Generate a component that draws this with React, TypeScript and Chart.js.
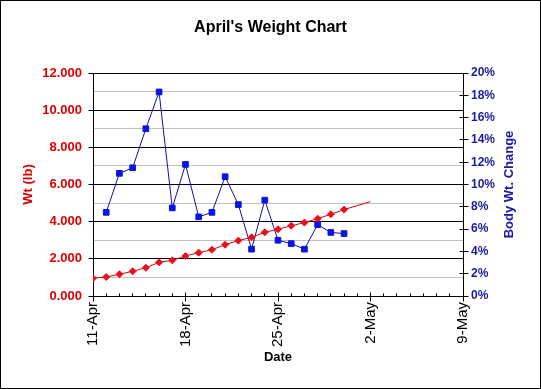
import React, { useEffect, useRef } from "react";
import { Chart, registerables } from "chart.js";

Chart.register(...registerables);

// Day offsets counted from 11-Apr
const dayOffsets = [0, 1, 2, 3, 4, 5, 6, 7, 8, 9, 10, 11, 12, 13, 14, 15, 16, 17, 18, 19];
const weights = [0.96, 1.02, 1.17, 1.33, 1.52, 1.81, 1.92, 2.15, 2.33, 2.49, 2.76, 2.98, 3.16, 3.43, 3.59, 3.78, 3.95, 4.16, 4.4, 4.65];
const bodyWtChange = [null, 7.5, 11.0, 11.5, 15.0, 18.3, 7.9, 11.8, 7.1, 7.5, 10.7, 8.2, 4.2, 8.6, 5.0, 4.7, 4.2, 6.4, 5.7, 5.6];
const trendDays = [19, 21];
const trendWeights = [4.65, 5.08];
const xTickLabels = ["11-Apr", "18-Apr", "25-Apr", "2-May", "9-May"];

const FONT = "'Liberation Sans', Arial, sans-serif";
const RED_TEXT = "#DD0000";
const BLUE_TEXT = "#1A1AA0";

function align(p: number) {
  return Math.round(p - 0.5) + 0.5;
}

const decorPlugin = {
  id: "decor",
  afterDraw(chart: any) {
    const { ctx, chartArea, scales } = chart;
    const x = scales.x;
    const yL = scales.yL;
    const yR = scales.yR;
    ctx.save();
    ctx.strokeStyle = "#000";
    ctx.lineWidth = 1;
    ctx.beginPath();
    const bottom = align(chartArea.bottom);
    for (let d = 0; d <= 28; d++) {
      const px = align(x.getPixelForValue(d));
      if (d % 7 === 0) {
        ctx.moveTo(px, bottom - 4);
        ctx.lineTo(px, bottom + 5);
      } else {
        ctx.moveTo(px, bottom - 3);
        ctx.lineTo(px, bottom);
      }
    }
    const left = align(chartArea.left);
    for (let v = 0; v <= 12; v += 2) {
      const py = align(yL.getPixelForValue(v));
      ctx.moveTo(left - 5, py);
      ctx.lineTo(left + 4, py);
    }
    const right = align(chartArea.right);
    for (let v = 0; v <= 20; v += 2) {
      const py = align(yR.getPixelForValue(v));
      ctx.moveTo(right - 4, py);
      ctx.lineTo(right + 5, py);
    }
    ctx.stroke();

    // right axis title (reads bottom to top)
    ctx.fillStyle = BLUE_TEXT;
    ctx.font = `bold 13px ${FONT}`;
    ctx.textAlign = "center";
    ctx.textBaseline = "middle";
    ctx.translate(509, (chartArea.top + chartArea.bottom) / 2);
    ctx.rotate(-Math.PI / 2);
    ctx.fillText("Body Wt. Change", 0, 0);
    ctx.restore();

    // outer frame
    ctx.save();
    ctx.strokeStyle = "#000";
    ctx.lineWidth = 1;
    ctx.strokeRect(0.5, 0.5, chart.width - 1, chart.height - 1);
    ctx.restore();
  },
};

export default function App() {
  const ref = useRef<HTMLCanvasElement>(null);

  useEffect(() => {
    if (!ref.current) return;
    const weightData = dayOffsets.map((d, i) => ({ x: d, y: weights[i] }));
    const changeData = dayOffsets
      .map((d, i) => ({ x: d, y: bodyWtChange[i] }))
      .filter((p) => p.y !== null);
    const trendData = trendDays.map((d, i) => ({ x: d, y: trendWeights[i] }));

    const chart = new Chart(ref.current, {
      type: "line",
      data: {
        datasets: [
          {
            label: "Wt (lb)",
            data: weightData,
            yAxisID: "yL",
            borderColor: "#E00000",
            borderWidth: 1,
            pointStyle: "rectRot",
            pointRadius: 3.5,
            pointBorderWidth: 1,
            pointBackgroundColor: "#E8101C",
            pointBorderColor: "#E8101C",
          },
          {
            label: "Trend",
            data: trendData,
            yAxisID: "yL",
            borderColor: "#E00000",
            borderWidth: 1,
            pointRadius: 0,
          },
          {
            label: "Body Wt. Change",
            data: changeData as any,
            yAxisID: "yR",
            borderColor: "#10109A",
            borderWidth: 1,
            pointStyle: "rect",
            pointRadius: 4,
            pointBorderWidth: 1,
            pointBackgroundColor: "#0A14E6",
            pointBorderColor: "#0A14E6",
          },
        ],
      },
      options: {
        responsive: false,
        animation: false,
        events: [],
        layout: { padding: 0 },
        plugins: {
          legend: { display: false },
          tooltip: { enabled: false },
          title: {
            display: true,
            text: "April's Weight Chart",
            color: "#000",
            font: { family: FONT, size: 16, weight: "bold" },
            padding: { top: 18, bottom: 35.8 },
          },
        },
        scales: {
          x: {
            type: "linear",
            position: "bottom",
            min: 0,
            max: 28,
            afterFit: (s: any) => {
              s.height = 93;
            },
            ticks: {
              stepSize: 1,
              autoSkip: false,
              minRotation: 90,
              maxRotation: 90,
              padding: 6,
              color: "#000",
              font: { family: FONT, size: 15 },
              callback: (v: any) => (Number(v) % 7 === 0 ? xTickLabels[Number(v) / 7] : ""),
            },
            grid: { drawOnChartArea: false, drawTicks: false },
            border: { display: true, color: "#000" },
            title: {
              display: true,
              text: "Date",
              color: "#000",
              font: { family: FONT, size: 13, weight: "bold" },
              padding: { top: 4, bottom: 24 },
            },
          },
          yL: {
            type: "linear",
            position: "left",
            min: 0,
            max: 12,
            afterFit: (s: any) => {
              s.width = 93;
            },
            ticks: {
              stepSize: 1,
              autoSkip: false,
              padding: 11,
              color: RED_TEXT,
              font: { family: FONT, size: 13, weight: "bold" },
              callback: (v: any) => (Number(v) % 2 === 0 ? Number(v).toFixed(3) : ""),
            },
            grid: {
              drawTicks: false,
              color: (c: any) => (c.tick && c.tick.value % 2 === 0 ? "#000" : "#C0C0C0"),
              lineWidth: 1,
            },
            border: { display: true, color: "#000" },
            title: {
              display: true,
              text: "Wt (lb)",
              color: RED_TEXT,
              font: { family: FONT, size: 13, weight: "bold" },
              padding: { top: 21, bottom: 0 },
            },
          },
          yR: {
            type: "linear",
            position: "right",
            min: 0,
            max: 20,
            afterFit: (s: any) => {
              s.width = 78;
            },
            ticks: {
              stepSize: 2,
              autoSkip: false,
              padding: 8,
              color: BLUE_TEXT,
              font: { family: FONT, size: 12, weight: "bold" },
              callback: (v: any) => `${v}%`,
            },
            grid: { drawOnChartArea: false, drawTicks: false },
            border: { display: true, color: "#000" },
          },
        },
      },
      plugins: [decorPlugin],
    });
    return () => chart.destroy();
  }, []);

  return (
    <div style={{ position: "absolute", left: 0, top: 0, width: 541, height: 389, background: "#fff" }}>
      <canvas ref={ref} width={541} height={389} />
    </div>
  );
}
